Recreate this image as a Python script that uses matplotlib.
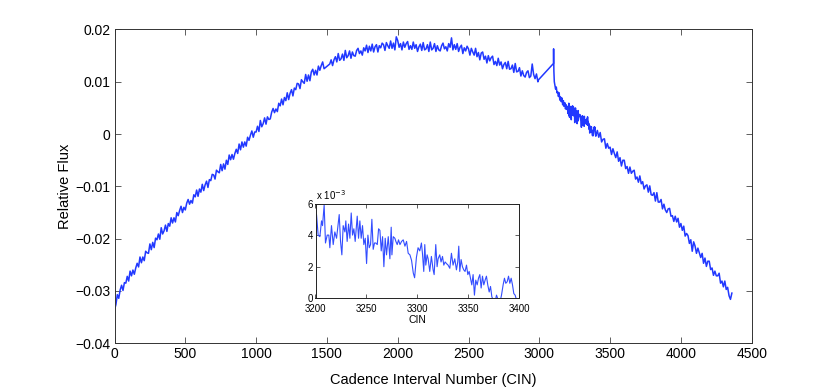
import numpy as np
import matplotlib
matplotlib.use('Agg')
import matplotlib.pyplot as plt
from matplotlib.ticker import FixedLocator, FuncFormatter

plt.rcParams['font.family'] = ['Liberation Sans', 'DejaVu Sans']

# ---- data (flux values in units of 1e-3) ----
cin_a = list(range(0, 1490, 10)) + list(range(1520, 3000, 10)) + [2995]
flux_a = [
    -33.6, -32.6, -30.7, -31.4, -29.8, -28.9, -29.9, -28.4, -28.5, -27.2,
    -28.1, -26.2, -27.1, -26.0, -26.8, -25.6, -24.7, -25.4, -23.5, -24.6,
    -23.5, -24.2, -22.4, -22.7, -22.8, -21.0, -22.1, -20.7, -21.7, -19.9,
    -20.2, -19.1, -20.1, -17.9, -19.1, -18.5, -17.4, -18.6, -17.1, -17.6,
    -16.0, -17.0, -16.0, -16.8, -15.0, -15.6, -14.6, -13.8, -15.0, -14.0,
    -14.5, -13.2, -12.5, -13.4, -12.7, -13.2, -11.6, -12.0, -10.7, -11.9,
    -10.5, -11.1, -9.6, -10.8, -9.7, -9.0, -10.2, -8.7, -8.9, -7.7,
    -7.8, -8.6, -6.9, -7.2, -7.4, -5.8, -7.0, -5.7, -6.7, -5.0,
    -5.8, -4.0, -4.9, -3.9, -4.8, -3.7, -2.9, -3.7, -1.9, -3.0,
    -1.5, -2.5, -1.5, -2.3, -0.6, -1.2, -0.2, 0.6, -0.6, 0.4,
    0.4, 1.5, 0.5, 2.6, 1.4, 2.0, 3.1, 1.9, 3.3, 2.8,
    2.9, 4.2, 4.9, 4.1, 4.8, 4.3, 5.9, 5.4, 6.7, 5.6,
    7.0, 6.4, 7.9, 6.6, 7.8, 8.5, 7.3, 8.8, 8.5, 9.7,
    9.6, 8.7, 10.4, 10.0, 9.7, 11.4, 10.1, 11.3, 10.2, 11.9,
    12.4, 11.3, 12.2, 11.3, 13.0, 12.2, 13.1, 13.8, 12.5,
    13.4, 14.2, 13.1, 14.2, 14.8, 13.8, 15.4, 14.1,
    14.4, 15.3, 14.1, 16.0, 14.6, 15.0, 15.9, 14.5, 15.7, 15.0,
    14.9, 16.0, 16.4, 15.4, 15.9, 15.1, 16.5, 15.9, 17.0, 15.6,
    16.8, 15.9, 17.2, 15.7, 16.7, 17.1, 15.7, 16.9, 16.5, 17.4,
    17.1, 16.0, 17.5, 16.9, 16.4, 17.8, 16.4, 17.4, 16.1, 18.6,
    17.9, 16.6, 17.3, 16.1, 17.6, 16.6, 17.3, 17.7, 16.2, 16.9,
    16.2, 17.6, 16.4, 17.1, 15.8, 16.7, 17.2, 16.0, 17.5, 16.1,
    16.3, 17.1, 15.8, 17.6, 16.1, 16.4, 17.3, 15.8, 16.9, 16.1,
    15.9, 16.9, 17.4, 16.3, 16.7, 15.9, 17.3, 16.6, 18.4, 16.1,
    17.1, 16.2, 17.3, 15.8, 16.6, 17.0, 15.4, 16.5, 15.9, 16.8,
    16.3, 15.1, 16.4, 15.7, 15.1, 16.4, 14.8, 15.6, 14.2, 15.5,
    15.7, 14.3, 14.9, 13.6, 15.0, 14.0, 14.6, 14.9, 13.3, 13.9,
    13.1, 14.5, 13.2, 13.8, 12.5, 13.3, 13.7, 12.5, 13.9, 12.4,
    12.5, 13.2, 11.8, 13.5, 11.9, 12.0, 12.7, 11.1, 12.1, 11.2,
    10.9, 11.8, 12.1, 10.8, 11.1, 13.4, 11.4, 10.6, 11.5, 10.0,
    10.4]

cin_b = [3100, 3101, 3103, 3106, 3110, 3115, 3120, 3125, 3130, 3135, 3140,
         3145, 3150, 3155, 3160, 3165, 3170, 3175, 3180, 3185, 3190, 3195]
flux_b = [13.5, 16.3, 12.0, 10.0, 9.4, 8.6, 9.0, 7.9, 8.1, 7.2, 7.9,
          6.5, 7.1, 6.2, 6.9, 5.6, 6.4, 5.3, 6.0, 4.8, 5.6, 4.7]

cin_i = [3200.0, 3201.0, 3202.6, 3204.3, 3205.9, 3206.9, 3208.5, 3209.8, 3211.5, 3213.1,
         3214.1, 3215.7, 3217.4, 3219.0, 3220.7, 3223.3, 3224.6, 3225.9, 3227.2, 3228.9,
         3229.8, 3231.1, 3232.5, 3233.8, 3235.1, 3236.4, 3237.7, 3239.0, 3241.0, 3242.3,
         3243.6, 3244.9, 3246.2, 3247.5, 3248.9, 3250.2, 3251.5, 3252.8, 3254.1, 3255.4,
         3256.7, 3258.0, 3259.3, 3260.7, 3262.0, 3263.3, 3264.6, 3265.9, 3267.2, 3268.5,
         3269.8, 3271.5, 3273.1, 3274.4, 3275.1, 3276.4, 3278.0, 3279.0, 3280.3, 3281.6,
         3283.0, 3284.6, 3286.2, 3287.9, 3289.5, 3291.1, 3292.8, 3294.4, 3296.1, 3297.4,
         3299.2, 3300.8, 3302.5, 3304.1, 3305.1, 3306.4, 3307.4, 3308.4, 3309.7, 3310.7,
         3312.3, 3313.9, 3315.6, 3316.6, 3318.2, 3319.5, 3320.5, 3322.1, 3323.4, 3324.8,
         3326.1, 3327.4, 3328.7, 3330.3, 3332.0, 3333.6, 3335.2, 3336.9, 3338.5, 3339.8,
         3340.8, 3341.8, 3343.1, 3344.4, 3345.7, 3347.0, 3348.4, 3349.7, 3351.0, 3352.3,
         3353.6, 3354.9, 3356.2, 3357.5, 3358.9, 3360.2, 3361.5, 3362.8, 3364.1, 3365.4,
         3366.7, 3368.0, 3369.3, 3370.7, 3372.0, 3373.3, 3374.6, 3376.2, 3377.9, 3379.5,
         3381.1, 3382.8, 3384.4, 3385.7, 3387.0, 3388.4, 3389.7, 3391.0, 3392.3, 3393.6,
         3394.9, 3396.2, 3397.5, 3398.9]
flux_i = [5.1, 5.3, 4.0, 3.9, 4.9, 4.6, 5.9, 3.5, 4.0, 4.0,
          3.2, 4.6, 3.4, 4.2, 3.8, 5.3, 3.6, 2.75, 4.6, 4.2,
          4.9, 3.6, 4.7, 3.8, 5.4, 4.0, 4.4, 3.6, 5.2, 3.8,
          4.9, 3.8, 4.6, 3.4, 3.8, 2.2, 4.0, 3.2, 3.4, 5.0,
          3.1, 3.5, 3.5, 3.4, 4.4, 4.3, 3.0, 3.9, 2.0, 3.8,
          2.75, 3.9, 2.5, 4.5, 2.75, 3.9, 3.8, 3.6, 3.4, 3.7,
          3.4, 3.6, 3.7, 3.3, 3.6, 2.85, 2.75, 2.4, 1.6, 1.3,
          2.6, 3.2, 3.0, 3.5, 2.85, 1.7, 3.4, 2.1, 2.75, 2.5,
          1.7, 2.65, 1.8, 1.5, 3.4, 2.0, 2.5, 2.75, 2.3, 2.65,
          2.1, 2.3, 2.2, 2.1, 1.9, 2.85, 2.1, 2.5, 1.8, 2.3,
          3.3, 1.7, 2.45, 2.0, 1.8, 1.7, 2.1, 1.5, 1.7, 1.27,
          0.85, 1.5, 0.2, 1.15, 0.85, 1.27, 1.5, 0.65, 1.4, 0.85,
          1.15, 1.4, 0.85, 0.4, 0.75, 0.1, -0.1, -0.3, 0.2, -0.1,
          -0.3, 0.2, 0.85, 1.27, 0.95, 1.05, 1.4, 0.95, 1.27, 0.85,
          0.3, 0.2, -0.1, -0.4]

cin_c = list(range(3410, 4361, 10))
flux_c = [
    0.7, -0.6, 0.3, -1.5, -1.0, -0.9, -2.7, -1.8, -2.7,
    -2.5, -3.9, -2.8, -3.7, -4.5, -3.4, -5.2, -4.5, -6.1, -5.0,
    -5.0, -6.6, -6.2, -7.5, -6.3, -7.5, -7.1, -6.9, -8.6, -8.2,
    -9.2, -8.0, -9.5, -9.1, -10.5, -9.9, -9.7, -11.1, -9.9, -11.6,
    -11.7, -11.2, -12.8, -11.2, -13.0, -13.0, -12.5, -14.3, -13.4, -14.5,
    -15.0, -14.3, -14.2, -15.7, -15.6, -16.7, -15.7, -16.8, -16.1, -17.8,
    -17.1, -18.4, -17.6, -19.5, -19.0, -19.4, -20.9, -20.2, -22.4, -20.6,
    -21.4, -22.8, -21.8, -22.7, -23.6, -22.8, -24.7, -23.7, -25.3, -24.3,
    -24.3, -25.9, -25.6, -27.0, -26.2, -27.1, -27.1, -26.6, -28.5, -28.1,
    -29.2, -28.1, -29.7, -29.3, -30.9, -31.6, -30.4]

main_ticks_x = [0, 500, 1000, 1500, 2000, 2500, 3000, 3500, 4000, 4500]
main_ticks_y = [-0.04, -0.03, -0.02, -0.01, 0, 0.01, 0.02]
inset_ticks_x = [3200, 3250, 3300, 3350, 3400]
inset_ticks_y = [0, 0.002, 0.004, 0.006]

cin_all = np.array(cin_a + cin_b + cin_i + cin_c, dtype=float)
flux_all = np.array(flux_a + flux_b + flux_i + flux_c) * 1e-3

W, H = 830, 389
fig = plt.figure(figsize=(W / 100, H / 100), dpi=100)

ax = fig.add_axes([114.5 / W, 1 - 343.3 / H, 637.2 / W, 313.8 / H])
ax.plot(cin_all, flux_all, color=(0.13, 0.22, 1.0), lw=1.1)
ax.set_xlim(0, 4500)
ax.set_ylim(-0.04, 0.02)
ax.xaxis.set_major_locator(FixedLocator(main_ticks_x))
ax.yaxis.set_major_locator(FixedLocator(main_ticks_y))
ax.yaxis.set_major_formatter(FuncFormatter(
    lambda v, p: '0' if abs(v) < 1e-12 else ('%g' % v).replace('-', '\u2212')))
ax.tick_params(direction='in', length=4, width=0.6, top=True, right=True,
               labelsize=10, pad=3, color='#444444')
for s in ax.spines.values():
    s.set_linewidth(0.7)
    s.set_color('#333333')
ax.set_xlabel('Cadence Interval Number (CIN)', fontsize=10.5, labelpad=8)
ax.set_ylabel('Relative Flux', fontsize=10.5, labelpad=2)

axi = fig.add_axes([315.5 / W, 1 - 298.3 / H, 203.5 / W, 94.8 / H])
axi.plot(np.array(cin_i), np.array(flux_i) * 1e-3, color=(0.2, 0.3, 1.0), lw=0.8)
axi.set_xlim(3200, 3400)
axi.set_ylim(0, 0.006)
axi.xaxis.set_major_locator(FixedLocator(inset_ticks_x))
axi.yaxis.set_major_locator(FixedLocator(inset_ticks_y))
axi.yaxis.set_major_formatter(FuncFormatter(lambda v, p: '%d' % round(v * 1000)))
axi.tick_params(direction='in', length=3, width=0.6, top=True, right=True,
                labelsize=7, pad=2, color='#444444')
axi.tick_params(axis='x', pad=4)
for s in axi.spines.values():
    s.set_linewidth(0.7)
    s.set_color('#222222')
axi.set_xlabel('CIN', fontsize=7.5, labelpad=0.5)
axi.text(0.0, 1.02, 'x 10$^{-3}$', transform=axi.transAxes, fontsize=7,
         ha='left', va='bottom')

fig.savefig('out.png', dpi=100, facecolor='white')
